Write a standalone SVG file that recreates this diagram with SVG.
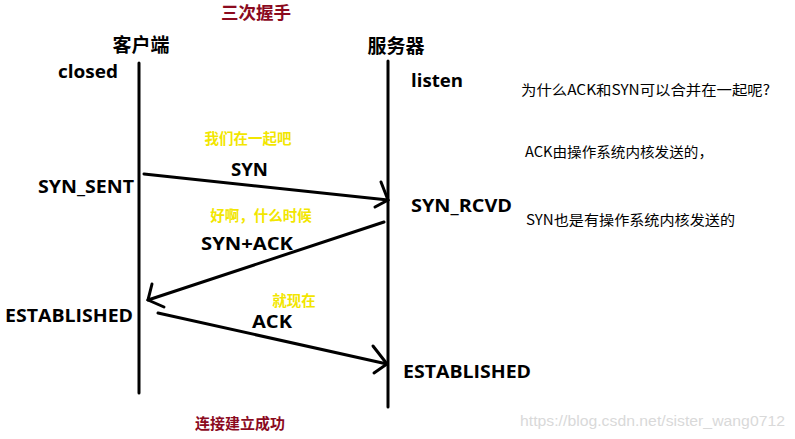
<svg xmlns="http://www.w3.org/2000/svg" width="795" height="439" viewBox="0 0 795 439">
<style>
.b{font-family:"Open Sans","Noto Sans CJK SC",sans-serif;font-weight:bold;fill:#000}
.h{font-family:"Noto Sans CJK SC",sans-serif;font-weight:bold;fill:#000}
.t{font-family:"Noto Sans CJK SC",sans-serif;font-weight:bold;fill:#8b0a1e}
.y{font-family:"Noto Sans CJK SC",sans-serif;font-weight:bold;fill:#f2e600}
.n{font-family:"Noto Sans CJK SC",sans-serif;fill:#000}
.ln{stroke:#000;stroke-width:3;fill:none;stroke-linecap:round;stroke-linejoin:round}
.ar{stroke:#000;stroke-width:3;fill:none;stroke-linecap:round}
</style>
<rect width="795" height="439" fill="#fff"/>
<text class="t" x="256" y="19" font-size="17.5" text-anchor="middle">三次握手</text>
<g id="client">
<text class="h" x="141" y="52" font-size="19" text-anchor="middle">客户端</text>
<line class="ln" x1="139" y1="63" x2="139" y2="393"/>
</g>
<g id="server">
<text class="h" x="396" y="53" font-size="19" text-anchor="middle">服务器</text>
<line class="ln" x1="388" y1="61" x2="388" y2="407"/>
</g>
<g id="states">
<text class="b" x="58" y="78" font-size="17.5" textLength="60" lengthAdjust="spacingAndGlyphs">closed</text>
<text class="b" x="411" y="87" font-size="17.5" textLength="52" lengthAdjust="spacingAndGlyphs">listen</text>
<text class="b" x="38" y="193" font-size="17.5" textLength="96" lengthAdjust="spacingAndGlyphs">SYN_SENT</text>
<text class="b" x="411" y="212" font-size="17.5" textLength="101" lengthAdjust="spacingAndGlyphs">SYN_RCVD</text>
<text class="b" x="5" y="322" font-size="17.5" textLength="128" lengthAdjust="spacingAndGlyphs">ESTABLISHED</text>
<text class="b" x="403" y="378" font-size="17.5" textLength="128" lengthAdjust="spacingAndGlyphs">ESTABLISHED</text>
</g>
<g id="notes">
<text class="n" x="521" y="95" font-size="14" textLength="249" lengthAdjust="spacingAndGlyphs">为什么ACK和SYN可以合并在一起呢?</text>
<text class="n" x="525" y="157" font-size="14" textLength="188" lengthAdjust="spacingAndGlyphs">ACK由操作系统内核发送的，</text>
<text class="n" x="526" y="225" font-size="14" textLength="209" lengthAdjust="spacingAndGlyphs">SYN也是有操作系统内核发送的</text>
</g>
<g id="connectors">
<polyline class="ln" points="144,174 388,200"/>
<polyline class="ar" points="381,182 388,200 375,207"/>
<polyline class="ln" points="384,222 148,300"/>
<polyline class="ar" points="152,284 148,300 164,307"/>
<polyline class="ln" points="158,313 387,364"/>
<polyline class="ar" points="373,346 387,364 374,373"/>
</g>
<g id="labels">
<text class="y" x="248" y="144" font-size="14.5" text-anchor="middle">我们在一起吧</text>
<text class="b" x="231" y="176" font-size="17.5" textLength="37" lengthAdjust="spacingAndGlyphs">SYN</text>
<text class="y" x="261" y="221" font-size="14.5" text-anchor="middle">好啊，什么时候</text>
<text class="b" x="201" y="250" font-size="17.5" textLength="92" lengthAdjust="spacingAndGlyphs">SYN+ACK</text>
<text class="y" x="294" y="306" font-size="14.5" text-anchor="middle">就现在</text>
<text class="b" x="252" y="328" font-size="17.5" textLength="40" lengthAdjust="spacingAndGlyphs">ACK</text>
</g>
<text class="t" x="240" y="429" font-size="15" text-anchor="middle">连接建立成功</text>
<text x="520" y="426" font-family="Liberation Sans,sans-serif" font-size="14" fill="#d9d9d9" textLength="265" lengthAdjust="spacingAndGlyphs">https://blog.csdn.net/sister_wang0712</text>
</svg>
